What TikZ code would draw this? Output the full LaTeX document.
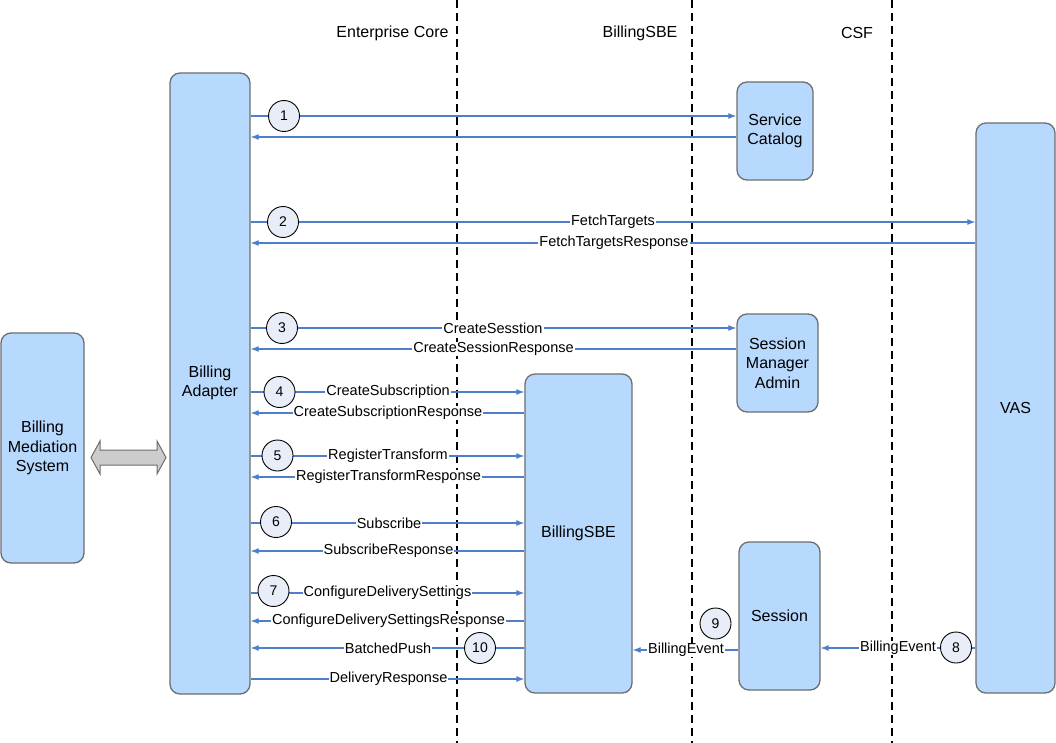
\documentclass[tikz,border=0pt]{standalone}
\usepackage{fontspec}
\setmainfont{Liberation Sans}
\usetikzlibrary{arrows.meta}
\definecolor{boxfill}{HTML}{B7D9FE}
\definecolor{boxline}{HTML}{6E6E6E}
\definecolor{msgline}{HTML}{4F7FCB}
\definecolor{numfill}{HTML}{E8EDF7}
\begin{document}
\begin{tikzpicture}[x=1pt,y=-1pt,
 box/.style={draw=boxline, line width=1.3pt, fill=boxfill, rounded corners=10pt, inner sep=0pt, align=center, font=\fontsize{16}{19.5}\selectfont},
 msg/.style={draw=msgline, line width=1.1pt, -{Latex[length=8pt,width=6pt]}},
 lbl/.style={fill=white, inner xsep=1pt, inner ysep=0.5pt, font=\fontsize{14.5}{16}\selectfont, text=black},
 num/.style={circle, draw=black, line width=0.9pt, fill=numfill, minimum size=31pt, inner sep=0pt, font=\fontsize{14}{16}\selectfont},
 lane/.style={draw=black, line width=1.2pt, dash pattern=on 8pt off 5pt},
 head/.style={font=\fontsize{16}{19}\selectfont},
 boxtext/.style={align=center, font=\fontsize{16}{19.5}\selectfont}]
\useasboundingbox (0,0) rectangle (1056,743);
\fill[white] (0,0) rectangle (1056,743);

% swim lane separators
\coordinate (l1t) at (457,0); \coordinate (l1b) at (457,743);
\coordinate (l2t) at (692,0); \coordinate (l2b) at (692,743);
\coordinate (l3t) at (892,0); \coordinate (l3b) at (892,743);
\draw[lane] (l1t) -- (l1b);
\draw[lane] (l2t) -- (l2b);
\draw[lane] (l3t) -- (l3b);

% headers
\node[head] (h1) at (392.5,33) {Enterprise Core};
\node[head] (h2) at (640,33) {BillingSBE};
\node[head] (h3) at (857,33) {CSF};

% boxes
\node[box, minimum width=83pt, minimum height=230pt] (bms) at (42.5,448) {Billing\\Mediation\\System};
\node[box, minimum width=80pt, minimum height=621pt] (ba) at (210,383.5) {};
\node[boxtext] (batext) at (210,383) {Billing\\Adapter};
\node[box, minimum width=76pt, minimum height=98pt] (sc) at (775,131) {Service\\Catalog};
\node[box, minimum width=79pt, minimum height=570pt] (vas) at (1015.5,408) {VAS};
\node[box, minimum width=81pt, minimum height=98pt] (sma) at (777.5,363) {Session\\Manager\\Admin};
\node[box, minimum width=107pt, minimum height=319pt] (sbe) at (578.5,533.5) {BillingSBE};
\node[box, minimum width=81pt, minimum height=148pt] (ses) at (779.5,616) {Session};

% double arrow between Billing Mediation System and Billing Adapter
\draw[draw=boxline, line width=1pt, fill=gray!40] (91,457.5) -- (100,441) -- (100,450) -- (157,450) -- (157,441) -- (166,457.5) -- (157,474) -- (157,465) -- (100,465) -- (100,474) -- cycle;

% messages
\draw[msg] (ba.east |- 0,116) -- (sc.west |- 0,116);
\draw[msg] (sc.west |- 0,137) -- (ba.east |- 0,137);

\draw[msg] (ba.east |- 0,222) -- (vas.west |- 0,222);
\draw[msg] (vas.west |- 0,243) -- (ba.east |- 0,243);

\draw[msg] (ba.east |- 0,328) -- (sma.west |- 0,328);
\draw[msg] (sma.west |- 0,349) -- (ba.east |- 0,349);

\draw[msg] (ba.east |- 0,392) -- (sbe.west |- 0,392);
\draw[msg] (sbe.west |- 0,413) -- (ba.east |- 0,413);

\draw[msg] (ba.east |- 0,456) -- (sbe.west |- 0,456);
\draw[msg] (sbe.west |- 0,477) -- (ba.east |- 0,477);

\draw[msg] (ba.east |- 0,523) -- (sbe.west |- 0,523);
\draw[msg] (sbe.west |- 0,551) -- (ba.east |- 0,551);

\draw[msg] (ba.east |- 0,593) -- (sbe.west |- 0,593);
\draw[msg] (sbe.west |- 0,621) -- (ba.east |- 0,621);

\draw[msg] (sbe.west |- 0,648) -- (ba.east |- 0,648);
\draw[msg] (ba.east |- 0,679) -- (sbe.west |- 0,679);

\draw[msg] (vas.west |- 0,648) -- (ses.east |- 0,648);
\draw[msg] (ses.west |- 0,650) -- (sbe.east |- 0,650);

% message labels
\node[lbl] (t2a) at (613,222) {FetchTargets};
\node[lbl] (t2b) at (614,243) {FetchTargetsResponse};
\node[lbl] (t3a) at (493,328) {CreateSesstion};
\node[lbl] (t3b) at (493.5,349) {CreateSessionResponse};
\node[lbl] (t4a) at (388,392) {CreateSubscription};
\node[lbl] (t4b) at (388,413) {CreateSubscriptionResponse};
\node[lbl] (t5a) at (388,456) {RegisterTransform};
\node[lbl] (t5b) at (388.5,477) {RegisterTransformResponse};
\node[lbl] (t6a) at (389,523) {Subscribe};
\node[lbl] (t6b) at (388.5,551) {SubscribeResponse};
\node[lbl] (t7a) at (387.5,593) {ConfigureDeliverySettings};
\node[lbl] (t7b) at (388.5,621) {ConfigureDeliverySettingsResponse};
\node[lbl] (t10) at (388,648) {BatchedPush};
\node[lbl] (t11) at (388.5,679) {DeliveryResponse};
\node[lbl] (t9) at (686,650) {BillingEvent};
\node[lbl] (t8) at (898,648) {BillingEvent};

% step numbers
\node[num] (n1) at (284,116) {1};
\node[num] (n2) at (283,222) {2};
\node[num] (n3) at (282,328) {3};
\node[num] (n4) at (279.5,392) {4};
\node[num] (n5) at (277.5,455.5) {5};
\node[num] (n6) at (276,522) {6};
\node[num] (n7) at (273.5,591) {7};
\node[num] (n8) at (956,647.5) {8};
\node[num] (n9) at (715.5,623.5) {9};
\node[num] (n10) at (480,648) {10};
\end{tikzpicture}
\end{document}
